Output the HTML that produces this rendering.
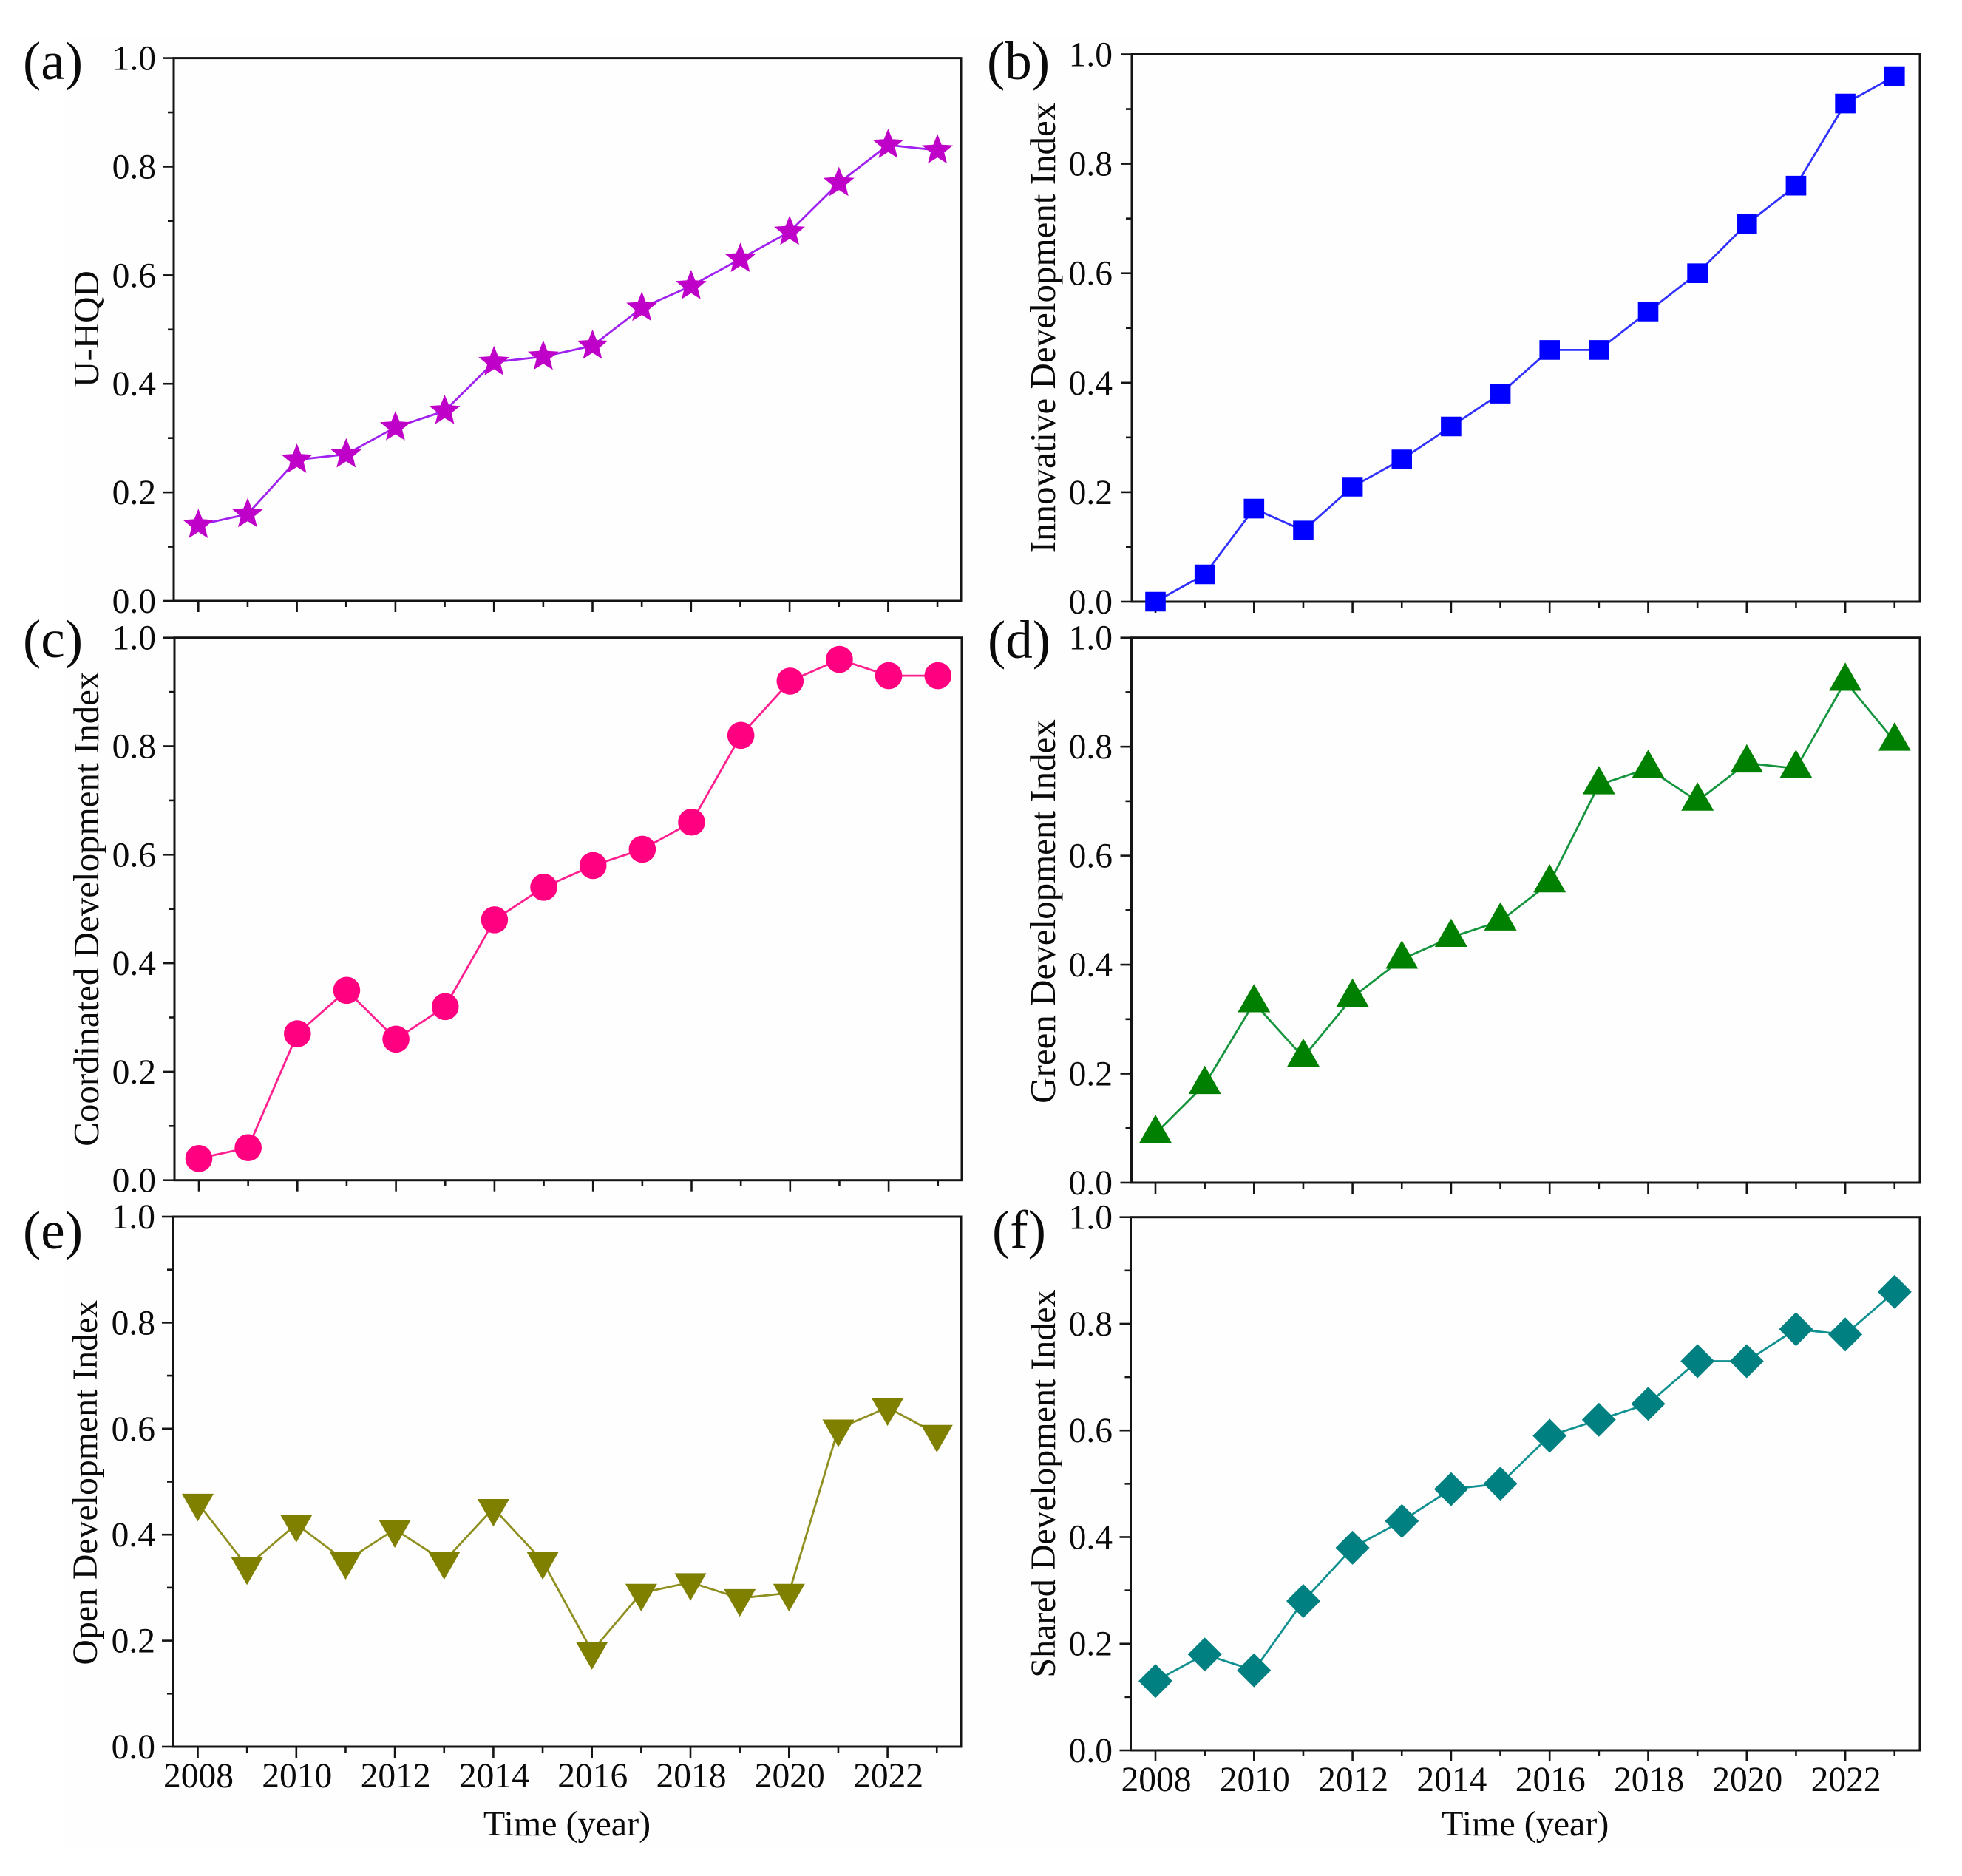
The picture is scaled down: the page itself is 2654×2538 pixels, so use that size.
<!DOCTYPE html>
<html lang="en">
<head>
<meta charset="utf-8">
<title>Urban high-quality development indices, 2008-2023</title>
<style>
html,body{margin:0;padding:0;background:#fff;}
svg{display:block;}
text{font-family:"Liberation Serif","Times New Roman",serif;fill:#0a0a0a;}
</style>
</head>
<body>
<svg id="chart" xmlns="http://www.w3.org/2000/svg" width="2654" height="2538" viewBox="0 0 2654 2538">
<rect x="0" y="0" width="2654" height="2538" fill="#ffffff"/>
<rect x="88" y="50" width="2509" height="2447" fill="#fefefe"/>
</svg>
<script>
const years = [2008,2009,2010,2011,2012,2013,2014,2015,2016,2017,2018,2019,2020,2021,2022,2023];
const xTickYears = [2008,2010,2012,2014,2016,2018,2020,2022];
const xMinorYears = [2009,2011,2013,2015,2017,2019,2021,2023];
const yTickValues = [0,0.2,0.4,0.6,0.8,1.0];
const yTickLabels = ['0.0','0.2','0.4','0.6','0.8','1.0'];
const yMinorValues = [0.1,0.3,0.5,0.7,0.9];

const valuesA = [0.14,0.16,0.26,0.27,0.32,0.35,0.44,0.45,0.47,0.54,0.58,0.63,0.68,0.77,0.84,0.83];
const valuesB = [0.00,0.05,0.17,0.13,0.21,0.26,0.32,0.38,0.46,0.46,0.53,0.60,0.69,0.76,0.91,0.96];
const valuesC = [0.04,0.06,0.27,0.35,0.26,0.32,0.48,0.54,0.58,0.61,0.66,0.82,0.92,0.96,0.93,0.93];
const valuesD = [0.09,0.18,0.33,0.23,0.34,0.41,0.45,0.48,0.55,0.73,0.76,0.70,0.77,0.76,0.92,0.81];
const valuesE = [0.46,0.34,0.42,0.35,0.41,0.35,0.45,0.35,0.18,0.29,0.31,0.28,0.29,0.60,0.64,0.59];
const valuesF = [0.13,0.18,0.15,0.28,0.38,0.43,0.49,0.50,0.59,0.62,0.65,0.73,0.73,0.79,0.78,0.86];

const panels = [
  {id:'a',letter:'(a)',title:'U-HQD',titleSize:49,values:valuesA,shape:'star',fill:'#bf00c8',line:'#a020f0',
   left:235,right:1300,top:78.6,bottom:813,x0:268.3,titleX:133,titleY:445,letterX:31,letterY:107,labelEnd:211,xLabels:false},
  {id:'b',letter:'(b)',title:'Innovative Development Index',titleSize:49,values:valuesB,shape:'square',fill:'#0000ff',line:'#3030ff',
   left:1531,right:2597,top:73.5,bottom:814,x0:1563,titleX:1427,titleY:443.5,letterX:1335,letterY:107,labelEnd:1505,xLabels:false},
  {id:'c',letter:'(c)',title:'Coordinated Development Index',titleSize:49,values:valuesC,shape:'circle',fill:'#ff0080',line:'#ff2090',
   left:236,right:1301,top:862.7,bottom:1596.7,x0:269,titleX:133,titleY:1229.7,letterX:31,letterY:889,labelEnd:211,xLabels:false},
  {id:'d',letter:'(d)',title:'Green Development Index',titleSize:49,values:valuesD,shape:'triangle',fill:'#008000',line:'#14943c',
   left:1530.5,right:2597,top:862.7,bottom:1600,x0:1563,titleX:1427,titleY:1233,letterX:1336,letterY:890,labelEnd:1505,xLabels:false},
  {id:'e',letter:'(e)',title:'Open Development Index',titleSize:47.8,values:valuesE,shape:'triangle-down',fill:'#808000',line:'#8f8f20',
   left:234,right:1300,top:1646,bottom:2363,x0:267.5,titleX:131,titleY:2005.7,letterX:31,letterY:1689,labelEnd:210,xLabels:true},
  {id:'f',letter:'(f)',title:'Shared Development Index',titleSize:48,values:valuesF,shape:'diamond',fill:'#008080',line:'#109090',
   left:1529.5,right:2597,top:1646.7,bottom:2368,x0:1563,titleX:1427,titleY:2007,letterX:1342,letterY:1688,labelEnd:1505,xLabels:true}
];

const xAxisTitle = 'Time (year)';
const YEAR_STEP = 66.65;
const NS = 'http://www.w3.org/2000/svg';
const root = document.getElementById('chart');

function make(tag, parent, attrs) {
  const node = document.createElementNS(NS, tag);
  for (const k in attrs) node.setAttribute(k, attrs[k]);
  parent.appendChild(node);
  return node;
}
function xScale(p, year) { return p.x0 + (year - years[0]) * YEAR_STEP; }
function yScale(p, v) { return p.bottom - v * (p.bottom - p.top); }

function markerPoints(shape, cx, cy) {
  if (shape === 'triangle') {
    return [[cx, cy - 25.5], [cx + 22, cy + 12.8], [cx - 22, cy + 12.8]];
  }
  if (shape === 'triangle-down') {
    return [[cx, cy + 25], [cx + 21.5, cy - 12.3], [cx - 21.5, cy - 12.3]];
  }
  if (shape === 'diamond') {
    return [[cx, cy - 23], [cx + 23, cy], [cx, cy + 23], [cx - 23, cy]];
  }
  if (shape === 'square') {
    return [[cx - 13.8, cy - 13.3], [cx + 13.8, cy - 13.3], [cx + 13.8, cy + 13.3], [cx - 13.8, cy + 13.3]];
  }
  const pts = [];
  for (let i = 0; i < 10; i++) {
    const r = i % 2 === 0 ? 22 : 9.6;
    const a = -Math.PI / 2 + i * Math.PI / 5;
    pts.push([cx + r * Math.cos(a), cy + r * Math.sin(a)]);
  }
  return pts;
}

for (const p of panels) {
  const g = make('g', root, {});
  
  

  const letter = make('text', g, {x: p.letterX, y: p.letterY, 'font-size': 73});
  letter.textContent = p.letter;
  
  

  const title = make('text', g, {
    x: p.titleX, y: p.titleY, 'font-size': p.titleSize, 'text-anchor': 'middle',
    transform: 'rotate(-90 ' + p.titleX + ' ' + p.titleY + ')'
  });
  title.textContent = p.title;
  
  

  const frame = make('rect', g, {
    x: p.left, y: p.top, width: p.right - p.left, height: p.bottom - p.top,
    fill: 'none', stroke: '#141414', 'stroke-width': 3
  });
  
  

  yTickValues.forEach(function (v, i) {
    const y = yScale(p, v);
    const tick = make('line', g, {x1: p.left - 15, x2: p.left, y1: y, y2: y, stroke: '#141414', 'stroke-width': 2.6});
    
    
    const label = make('text', g, {x: p.labelEnd, y: y + 16, 'font-size': 47.5, 'text-anchor': 'end'});
    label.textContent = yTickLabels[i];
    
    
  });
  yMinorValues.forEach(function (v) {
    const y = yScale(p, v);
    const tick = make('line', g, {x1: p.left - 8, x2: p.left, y1: y, y2: y, stroke: '#141414', 'stroke-width': 2.6});
    
    
  });

  xTickYears.forEach(function (yr) {
    const x = xScale(p, yr);
    const tick = make('line', g, {x1: x, x2: x, y1: p.bottom, y2: p.bottom + 15, stroke: '#141414', 'stroke-width': 2.6});
    
    
    if (p.xLabels) {
      const label = make('text', g, {x: x + 1, y: p.bottom + 55, 'font-size': 47.5, 'text-anchor': 'middle'});
      label.textContent = String(yr);
      
      
    }
  });
  xMinorYears.forEach(function (yr) {
    const x = xScale(p, yr);
    const tick = make('line', g, {x1: x, x2: x, y1: p.bottom, y2: p.bottom + 8, stroke: '#141414', 'stroke-width': 2.6});
    
    
  });

  if (p.xLabels) {
    const xt = make('text', g, {x: (p.left + p.right) / 2, y: 2483, 'font-size': 48, 'text-anchor': 'middle'});
    xt.textContent = xAxisTitle;
    
    
  }

  const linePoints = p.values.map(function (v, i) {
    return xScale(p, years[i]).toFixed(1) + ',' + yScale(p, v).toFixed(1);
  }).join(' ');
  const series = make('polyline', g, {points: linePoints, fill: 'none', stroke: p.line, 'stroke-width': 2.8});
  
  

  p.values.forEach(function (v, i) {
    const cx = xScale(p, years[i]);
    const cy = yScale(p, v);
    let mark;
    if (p.shape === 'circle') {
      mark = make('circle', g, {cx: cx, cy: cy, r: 18.3, fill: p.fill});
    } else {
      const pts = markerPoints(p.shape, cx, cy).map(function (q) {
        return q[0].toFixed(1) + ',' + q[1].toFixed(1);
      }).join(' ');
      mark = make('polygon', g, {points: pts, fill: p.fill});
    }
    
    
  });
}
</script>
</body>
</html>
